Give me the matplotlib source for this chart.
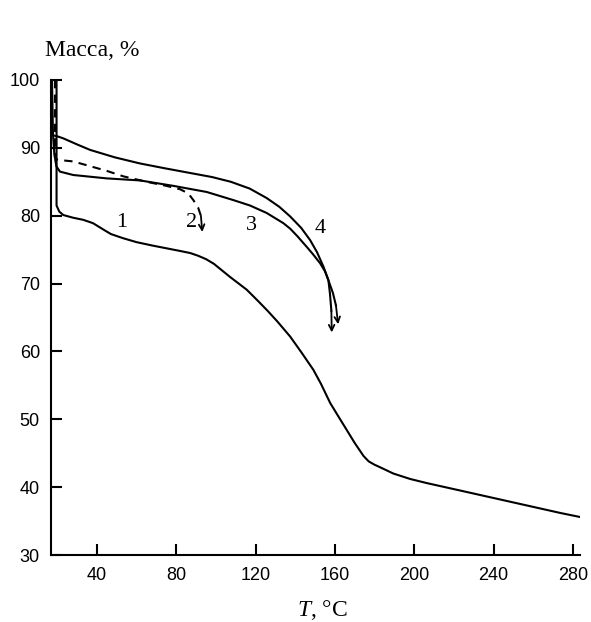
import matplotlib
matplotlib.use('Agg')
import matplotlib.pyplot as plt

plt.rcParams['mathtext.fontset'] = 'custom'
plt.rcParams['mathtext.rm'] = 'Liberation Serif'
plt.rcParams['mathtext.it'] = 'Liberation Serif:italic'

###################################################
# DATA
###################################################
# curve 1
t1 = [17.0, 19.6, 19.6, 21, 23, 28, 33, 38, 43, 47, 53, 60, 68, 75, 82, 87, 91, 95, 99,
      107, 115.5, 121, 126, 131, 137.4, 143, 149.1, 153, 157.6, 162, 166, 170, 174.4, 177,
      180, 183, 189.5, 198, 206.3, 223.2, 240, 256.8, 273.6, 283.6]
m1 = [100, 100, 81.5, 80.6, 80.1, 79.7, 79.4, 78.9, 78.0, 77.3, 76.7, 76.1, 75.6, 75.2, 74.8,
      74.5, 74.1, 73.6, 72.9, 71.0, 69.1, 67.5, 66.0, 64.4, 62.2, 59.9, 57.3, 55.2, 52.4, 50.3,
      48.4, 46.5, 44.6, 43.8, 43.3, 42.9, 42.0, 41.2, 40.6, 39.5, 38.4, 37.3, 36.2, 35.6]

# curve 2 (dashed), ends with an arrow
t2 = [18.8, 18.8, 19.6, 21.3, 28, 36.5, 45, 53.3, 65, 75, 81.9, 86, 88.6, 91, 92.4]
m2 = [100, 88.8, 88.3, 88.2, 88.0, 87.3, 86.6, 85.8, 85.0, 84.4, 83.9, 83.3, 82.3, 81.2, 80.0]
tip2 = (93.1, 77.6)

# curve 3
t3 = [17.3, 17.8, 18.5, 19.5, 21.3, 28, 44.9, 61.7, 78.5, 95.3, 108.8, 117.2, 125.6, 134,
      137.4, 141, 145.8, 149, 152.5, 155, 156.7, 157.5, 158.2]
m3 = [100, 92, 89, 87.3, 86.5, 86.0, 85.5, 85.2, 84.4, 83.5, 82.3, 81.5, 80.4, 78.9, 78.1,
      77.0, 75.4, 74.3, 73.0, 71.8, 70.5, 68.5, 66.0]
tip3 = (158.4, 62.8)

# curve 4
t4 = [16.9, 16.9, 17.1, 20, 23, 30, 36.5, 49, 61.7, 74, 86.9, 98, 107.5, 117, 125.6, 132,
      137.4, 143, 147.5, 151, 154.2, 156.7, 159, 160.5]
m4 = [100, 93, 91.9, 91.7, 91.4, 90.5, 89.7, 88.6, 87.7, 87.0, 86.3, 85.7, 85.0, 84.0, 82.6,
      81.3, 79.9, 78.2, 76.4, 74.6, 72.5, 70.5, 68.6, 66.8]
tip4 = (161.6, 64.0)

curve_labels = ['1', '2', '3', '4']
label_t = [52.4, 87.5, 118.0, 152.5]
label_m = [79.0, 79.0, 78.6, 78.1]

x_ticks = [40, 80, 120, 160, 200, 240, 280]
y_ticks = [30, 40, 50, 60, 70, 80, 90, 100]

###################################################
# PLOT
###################################################
fig = plt.figure(figsize=(5.91, 6.22), dpi=100)
ax = fig.add_axes([51 / 591, 1 - 555 / 622, (580 - 51) / 591, (555 - 80) / 622])

lw = 1.5
ax.plot(t1, m1, color='black', lw=lw)
ax.plot(t2, m2, color='black', lw=lw, ls=(0, (4, 3)))
ax.plot(t3, m3, color='black', lw=lw)
ax.plot(t4, m4, color='black', lw=lw)

for t, m, tip in [(t2, m2, tip2), (t3, m3, tip3), (t4, m4, tip4)]:
    ax.annotate('', xy=tip, xytext=(t[-1], m[-1]),
                arrowprops=dict(arrowstyle='->', color='black', lw=1.3,
                                mutation_scale=10, shrinkA=0, shrinkB=0))

for lab, t, m in zip(curve_labels, label_t, label_m):
    ax.text(t, m, lab, fontsize=16, family='Liberation Serif', ha='center', va='center')

ax.set_xlim(16.8, 283.6)
ax.set_ylim(30, 100)
ax.set_xticks(x_ticks)
ax.set_yticks(y_ticks)
for s in ['top', 'right']:
    ax.spines[s].set_visible(False)
for s in ['left', 'bottom']:
    ax.spines[s].set_linewidth(1.5)
ax.tick_params(direction='in', length=8, width=1.5, labelsize=13)
ax.tick_params(axis='x', pad=9)
ax.tick_params(axis='y', pad=8)
for lbl in ax.get_xticklabels() + ax.get_yticklabels():
    lbl.set_family('Liberation Sans')

fig.text(92 / 591, 1 - 50 / 622, 'Масса, %', fontsize=17, family='Liberation Serif',
         ha='center', va='center')
fig.text(322 / 591, 1 - 610 / 622, r'$T$, °C', fontsize=17, family='Liberation Serif',
         ha='center', va='center')

plt.savefig('out.png', dpi=100)
